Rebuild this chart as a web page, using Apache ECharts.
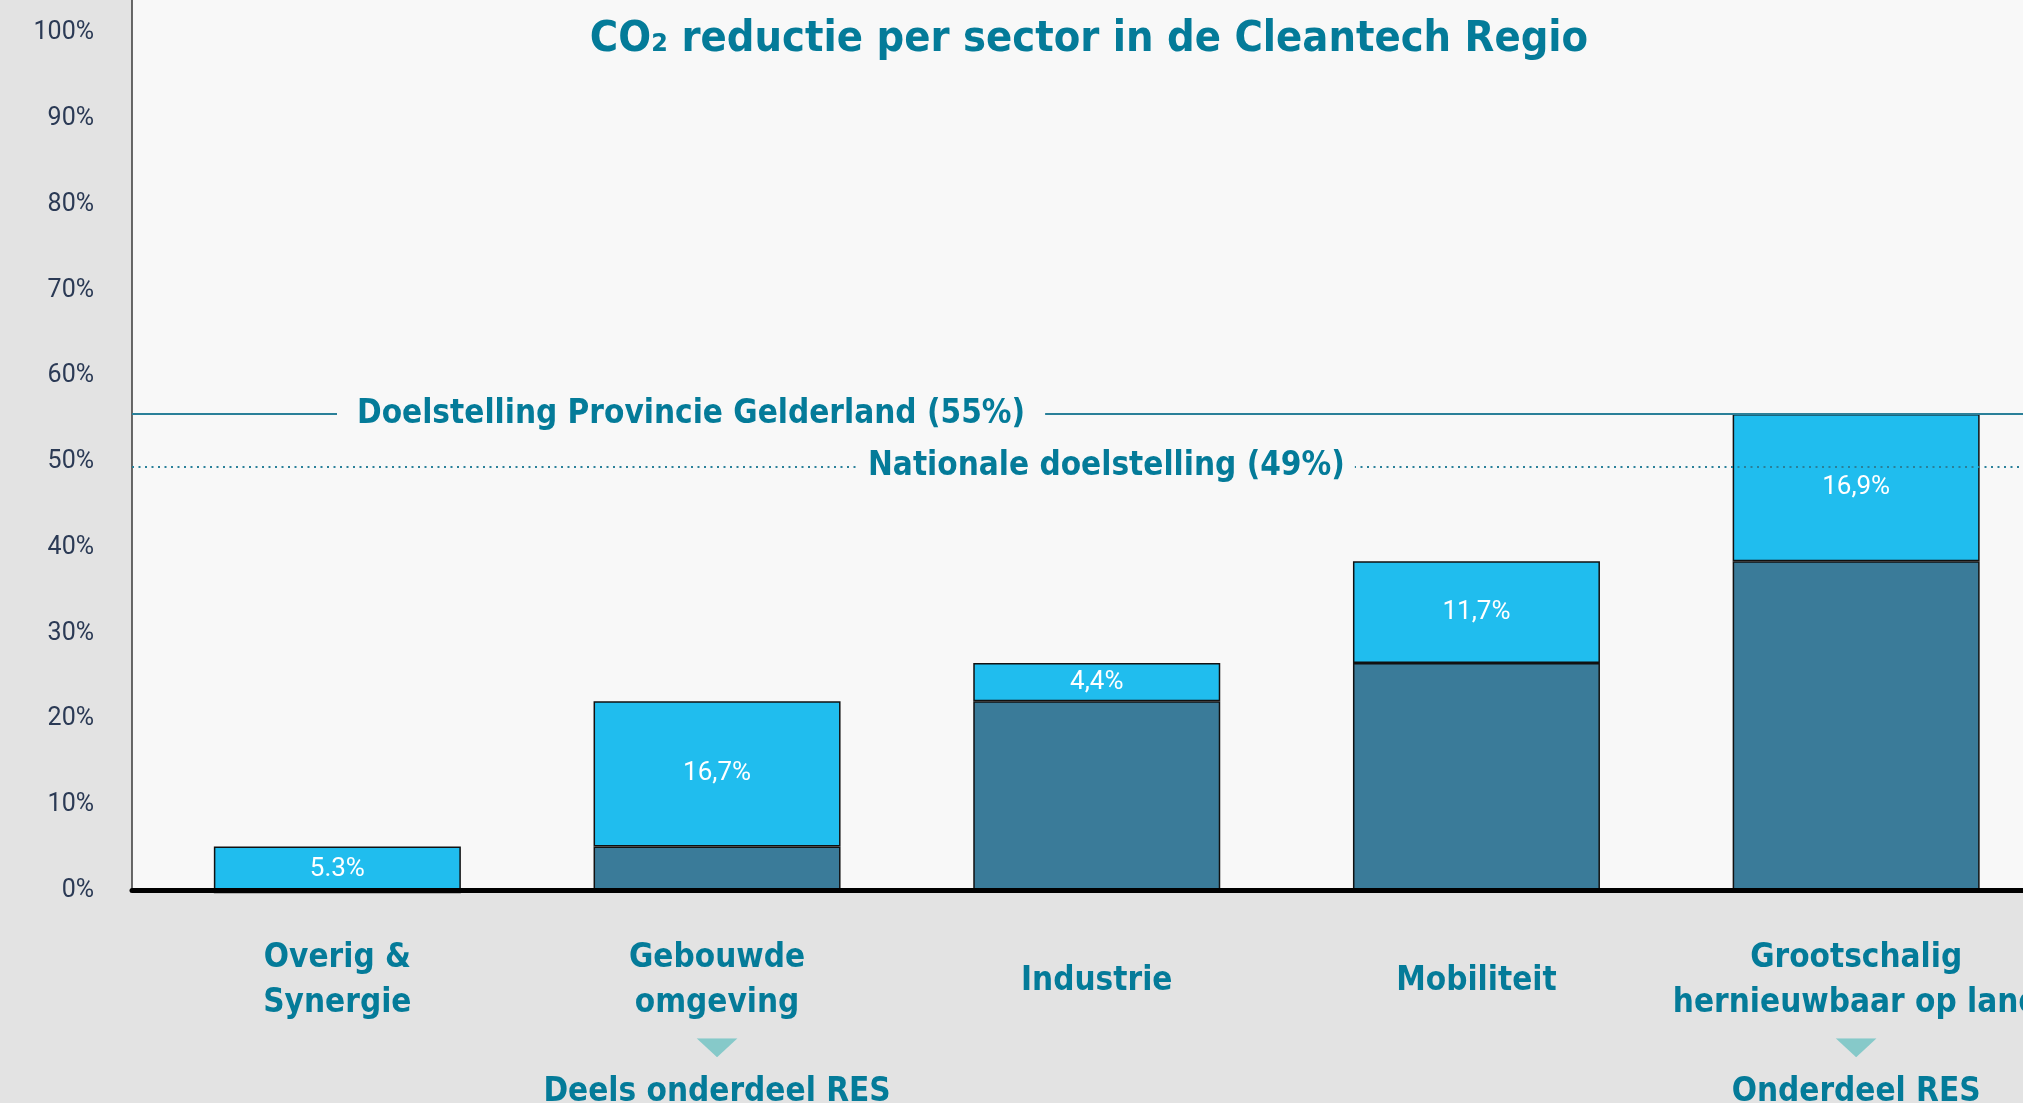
<!DOCTYPE html>
<html>
<head>
<meta charset="utf-8">
<script src="https://cdn.jsdelivr.net/npm/echarts@6/dist/echarts.min.js"></script>
<style>
  html, body { margin: 0; padding: 0; background: #e3e3e3; }
  #chart { width: 2023px; height: 1103px; }
</style>
</head>
<body>
<div id="chart"></div>
<script>
// sectors, split over the lines they take under the axis
const categoryLines = [
  ['Overig &', 'Synergie'],
  ['Gebouwde', 'omgeving'],
  ['Industrie'],
  ['Mobiliteit'],
  ['Grootschalig', 'hernieuwbaar op land']
];
const resNotes = ['', 'Deels onderdeel RES', '', '', 'Onderdeel RES'];

// reduction reached by the sectors before (dark) and by the sector itself (light), in %
const previousReduction = [0, 5.3, 22.0, 26.4, 38.1];
const sectorReduction = [5.3, 16.7, 4.4, 11.7, 16.9];
const sectorLabels = ['5.3%', '16,7%', '4,4%', '11,7%', '16,9%'];

// targets
const provinceTarget = 55;
const nationalTarget = 49;
const provinceTargetLabel = 'Doelstelling Provincie Gelderland (55%)';
const nationalTargetLabel = 'Nationale doelstelling (49%)';

const teal = '#047b99';
const headFont = "'Liberation Sans Narrow', 'DejaVu Sans Condensed', Roboto, sans-serif";
const bodyFont = 'Roboto, sans-serif';

const triangle = 'data:image/svg+xml;utf8,' + encodeURIComponent(
  '<svg xmlns="http://www.w3.org/2000/svg" width="41" height="19" viewBox="0 0 41 19">' +
  '<polygon points="0,0 41,0 20.5,19" fill="#86c9c9"/></svg>');

var chartDom = document.getElementById('chart');
var myChart = echarts.init(chartDom);
let option;

option = {
  animation: false,
  backgroundColor: '#e3e3e3',
  title: {
    text: 'CO₂ reductie per sector in de Cleantech Regio',
    left: 1089,
    top: 16,
    padding: 0,
    textAlign: 'center',
    textStyle: {
      color: teal,
      fontFamily: headFont,
      fontWeight: 'bold',
      fontSize: 43,
      lineHeight: 48
    }
  },
  grid: [
    // frame: plot background, y labels, baseline
    { left: 132, right: 0, top: 0, bottom: 212.5, show: true, backgroundColor: '#f8f8f8', borderWidth: 0, outerBoundsMode: 'none' },
    // bars
    { left: 147.5, right: -23, top: 22.6, bottom: 210.4, outerBoundsMode: 'none' },
    // target lines
    { left: 132, right: 0, top: 22.6, bottom: 210.4, outerBoundsMode: 'none' }
  ],
  xAxis: [
    {
      gridIndex: 0, type: 'value', min: 0, max: 1, z: 10,
      axisLine: { show: true, onZero: false, lineStyle: { color: '#000', width: 5 } },
      axisTick: { show: false }, axisLabel: { show: false }, splitLine: { show: false }
    },
    {
      gridIndex: 1, type: 'category',
      data: categoryLines.map(l => l.join(' ')),
      axisLine: { show: false }, axisTick: { show: false },
      axisLabel: {
        interval: 0,
        margin: 44,
        formatter: function (value, i) {
          const lines = categoryLines[i];
          let s = lines.length === 1 ? '{one|' + lines[0] + '}' : lines.map(t => '{c|' + t + '}').join('\n');
          if (resNotes[i]) s += '\n{tri| }\n{c|' + resNotes[i] + '}';
          return s;
        },
        rich: {
          c: { color: teal, fontFamily: headFont, fontWeight: 'bold', fontSize: 33, lineHeight: 44.5 },
          one: { color: teal, fontFamily: headFont, fontWeight: 'bold', fontSize: 33, lineHeight: 89 },
          tri: { width: 41, height: 19, lineHeight: 44.5, backgroundColor: { image: triangle } }
        }
      }
    },
    { gridIndex: 2, type: 'value', min: 0, max: 1, show: false }
  ],
  yAxis: [
    {
      gridIndex: 0, type: 'value', min: 0, max: 103.85, interval: 10,
      axisLine: { show: true, lineStyle: { color: '#3a3a3a', width: 1.5 } },
      axisTick: { show: false }, splitLine: { show: false },
      axisLabel: {
        showMaxLabel: false,
        formatter: '{value}%',
        margin: 38,
        color: '#2b3a55',
        fontFamily: bodyFont,
        fontSize: 25
      }
    },
    { gridIndex: 1, type: 'value', min: 0, max: 100, show: false },
    { gridIndex: 2, type: 'value', min: 0, max: 100, show: false }
  ],
  series: [
    {
      name: 'Eerdere reductie',
      type: 'bar',
      xAxisIndex: 1, yAxisIndex: 1,
      stack: 'total',
      barWidth: 247,
      z: 3,
      itemStyle: { color: '#3a7b99', borderColor: '#111', borderWidth: 1.5 },
      data: previousReduction
    },
    {
      name: 'Reductie sector',
      type: 'bar',
      xAxisIndex: 1, yAxisIndex: 1,
      stack: 'total',
      barWidth: 247,
      z: 3,
      itemStyle: { color: '#20bdee', borderColor: '#111', borderWidth: 1.5 },
      label: {
        show: true,
        position: 'inside',
        formatter: p => sectorLabels[p.dataIndex],
        color: '#fff',
        fontFamily: bodyFont,
        fontSize: 26
      },
      data: sectorReduction
    },
    {
      name: 'Doelstellingen',
      type: 'line',
      xAxisIndex: 2, yAxisIndex: 2,
      z: 1,
      data: [],
      markLine: {
        silent: true,
        symbol: ['none', 'none'],
        data: [
          {
            yAxis: provinceTarget,
            lineStyle: { type: 'solid', color: '#2a8099', width: 2 },
            label: {
              formatter: provinceTargetLabel,
              position: 'insideStart',
              distance: [205, 0],
              padding: [4, 20],
              backgroundColor: '#f8f8f8',
              color: teal, fontFamily: headFont, fontWeight: 'bold', fontSize: 33
            }
          },
          {
            yAxis: nationalTarget,
            lineStyle: { type: [2, 4.5], color: '#2a8099', width: 2 },
            label: {
              formatter: nationalTargetLabel,
              position: 'insideStart',
              distance: [726, 0],
              padding: [4, 10],
              backgroundColor: '#f8f8f8',
              color: teal, fontFamily: headFont, fontWeight: 'bold', fontSize: 33
            }
          }
        ]
      }
    }
  ]
};

option && myChart.setOption(option);

window.onresize = function () {
  myChart.resize();
};
</script>
</body>
</html>
